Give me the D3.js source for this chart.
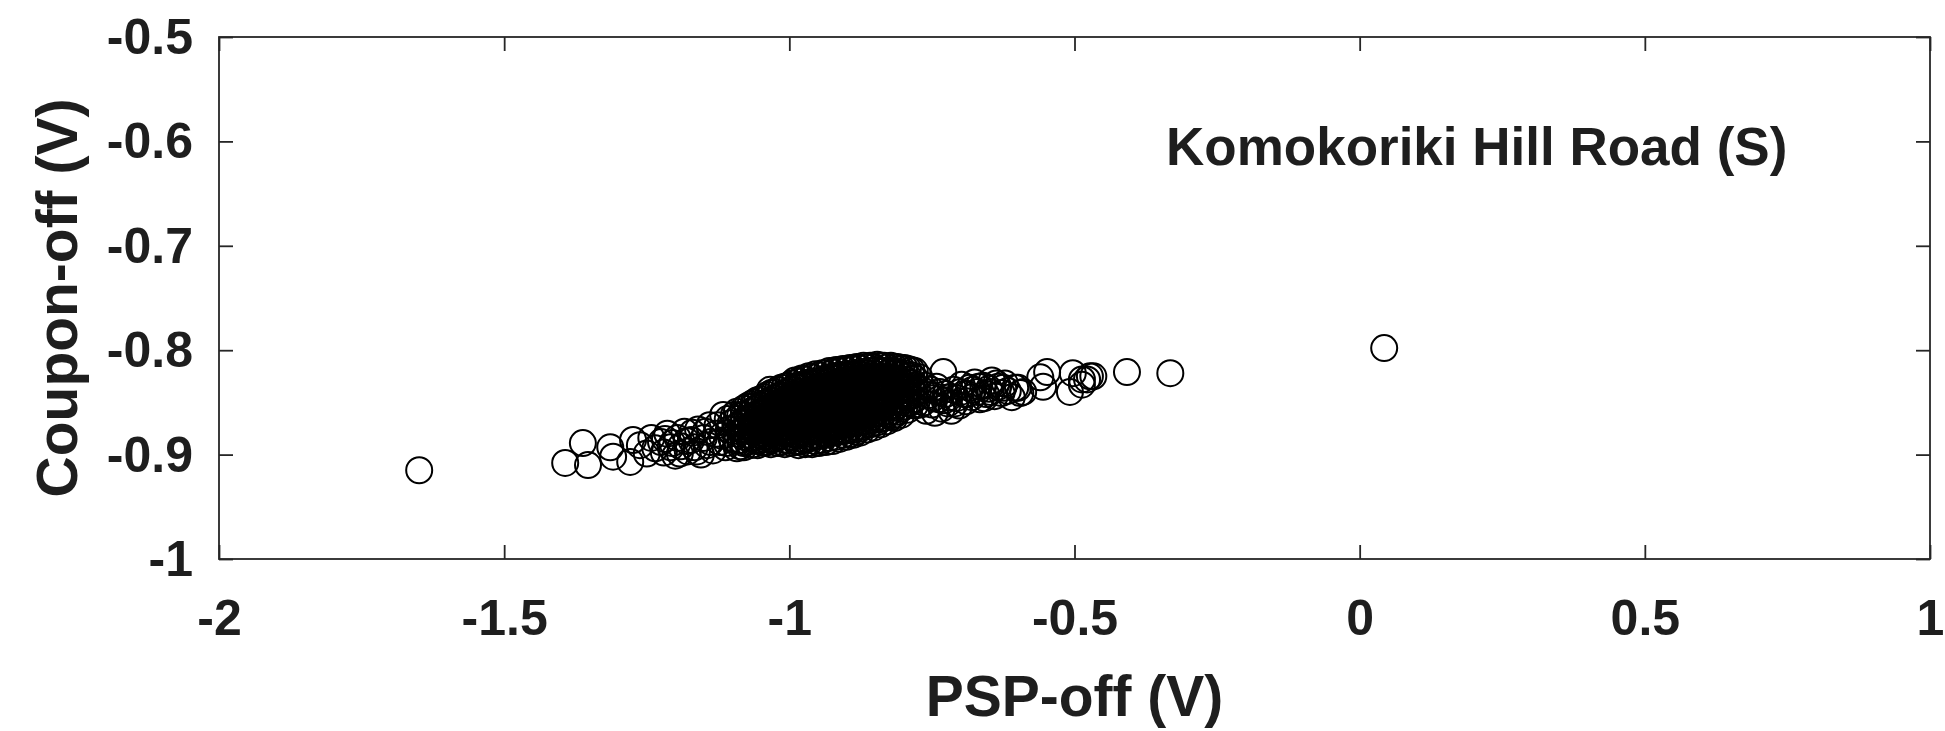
<!DOCTYPE html>
<html>
<head>
<meta charset="utf-8">
<script src="https://cdn.jsdelivr.net/npm/d3@7"></script>
<style>
  body { margin: 0; background: #fff; }
  svg text { font-family: "Liberation Sans", Arial, sans-serif; font-weight: bold; fill: #1e1e1e; }
</style>
</head>
<body>
<svg id="chart" width="1945" height="731"></svg>
<script>
// axis ticks
const xTicks = [-2, -1.5, -1, -0.5, 0, 0.5, 1];
const yTicks = [-1, -0.9, -0.8, -0.7, -0.6, -0.5];

// [PSP-off, Coupon-off] readings, volts
const outliers = [[-1.649, -0.915], [0.043, -0.798]];

const leftSparse = [
  [-1.393, -0.908], [-1.362, -0.889], [-1.353, -0.910], [-1.314, -0.893], [-1.309, -0.902],
  [-1.279, -0.907], [-1.274, -0.886], [-1.262, -0.891], [-1.250, -0.899], [-1.242, -0.884],
  [-1.235, -0.894], [-1.225, -0.888], [-1.220, -0.898], [-1.214, -0.880], [-1.208, -0.893],
  [-1.200, -0.901], [-1.196, -0.884], [-1.190, -0.892], [-1.184, -0.878], [-1.178, -0.897],
  [-1.172, -0.886], [-1.166, -0.893], [-1.160, -0.876], [-1.155, -0.900], [-1.150, -0.884],
  [-1.144, -0.891], [-1.140, -0.872], [-1.134, -0.896], [-1.128, -0.880], [-1.122, -0.888],
  [-1.116, -0.862], [-1.112, -0.893], [-1.108, -0.866], [-1.106, -0.876], [-1.101, -0.885],
  [-1.097, -0.862], [-1.064, -0.854], [-1.034, -0.838],
  [-1.218, -0.885], [-1.205, -0.889], [-1.192, -0.899], [-1.180, -0.887], [-1.170, -0.879],
  [-1.162, -0.897], [-1.147, -0.878], [-1.138, -0.888], [-1.126, -0.872], [-1.118, -0.882],
  [-1.110, -0.889], [-1.103, -0.870]
];

// dense body, one column of coupon readings per psp value
const coreColumns = [
  [-1.092, [-0.859, -0.866, -0.873, -0.880, -0.887, -0.894]],
  [-1.086, [-0.862, -0.870, -0.878, -0.886, -0.892]],
  [-1.080, [-0.856, -0.862, -0.869, -0.876, -0.883, -0.889, -0.893]],
  [-1.074, [-0.854, -0.866, -0.874, -0.881, -0.888]],
  [-1.068, [-0.852, -0.859, -0.865, -0.872, -0.878, -0.885, -0.891]],
  [-1.062, [-0.850, -0.857, -0.863, -0.870, -0.877, -0.884, -0.890]],
  [-1.056, [-0.848, -0.855, -0.861, -0.868, -0.874, -0.881, -0.887, -0.891]],
  [-1.050, [-0.847, -0.853, -0.860, -0.866, -0.873, -0.879, -0.886]],
  [-1.044, [-0.845, -0.851, -0.858, -0.864, -0.871, -0.877, -0.883, -0.889]],
  [-1.038, [-0.843, -0.850, -0.856, -0.863, -0.869, -0.876, -0.882, -0.888]],
  [-1.032, [-0.841, -0.848, -0.854, -0.861, -0.867, -0.874, -0.880, -0.886, -0.890]],
  [-1.026, [-0.840, -0.846, -0.853, -0.859, -0.866, -0.872, -0.879, -0.885]],
  [-1.020, [-0.838, -0.844, -0.851, -0.857, -0.864, -0.870, -0.877, -0.883, -0.889]],
  [-1.014, [-0.836, -0.843, -0.849, -0.856, -0.862, -0.869, -0.875, -0.882, -0.888]],
  [-1.008, [-0.835, -0.841, -0.848, -0.854, -0.861, -0.867, -0.874, -0.880, -0.886, -0.890]],
  [-1.002, [-0.834, -0.840, -0.847, -0.853, -0.860, -0.866, -0.873, -0.879, -0.886]],
  [-0.996, [-0.832, -0.838, -0.845, -0.851, -0.858, -0.864, -0.871, -0.877, -0.883, -0.889]],
  [-0.990, [-0.829, -0.835, -0.842, -0.848, -0.855, -0.861, -0.868, -0.874, -0.881, -0.887]],
  [-0.984, [-0.830, -0.836, -0.843, -0.849, -0.856, -0.862, -0.869, -0.875, -0.882, -0.888, -0.891]],
  [-0.978, [-0.827, -0.833, -0.840, -0.846, -0.853, -0.859, -0.866, -0.872, -0.879, -0.885]],
  [-0.972, [-0.828, -0.834, -0.841, -0.847, -0.854, -0.860, -0.867, -0.873, -0.880, -0.886, -0.890]],
  [-0.966, [-0.825, -0.831, -0.838, -0.844, -0.851, -0.857, -0.864, -0.870, -0.877, -0.883, -0.889]],
  [-0.960, [-0.826, -0.832, -0.839, -0.845, -0.852, -0.858, -0.865, -0.871, -0.878, -0.884, -0.890]],
  [-0.954, [-0.823, -0.830, -0.836, -0.843, -0.849, -0.856, -0.862, -0.869, -0.875, -0.882, -0.887]],
  [-0.948, [-0.824, -0.830, -0.837, -0.843, -0.850, -0.856, -0.863, -0.869, -0.876, -0.882, -0.889]],
  [-0.942, [-0.822, -0.828, -0.835, -0.841, -0.848, -0.854, -0.861, -0.867, -0.874, -0.880, -0.886]],
  [-0.936, [-0.822, -0.829, -0.835, -0.842, -0.848, -0.855, -0.861, -0.868, -0.874, -0.881, -0.888]],
  [-0.930, [-0.820, -0.826, -0.833, -0.839, -0.846, -0.852, -0.859, -0.865, -0.872, -0.878, -0.884]],
  [-0.924, [-0.821, -0.827, -0.834, -0.840, -0.847, -0.853, -0.860, -0.866, -0.873, -0.879, -0.887]],
  [-0.918, [-0.819, -0.825, -0.832, -0.838, -0.845, -0.851, -0.858, -0.864, -0.871, -0.877, -0.883]],
  [-0.912, [-0.820, -0.826, -0.833, -0.839, -0.846, -0.852, -0.859, -0.865, -0.872, -0.878, -0.885]],
  [-0.906, [-0.818, -0.824, -0.831, -0.837, -0.844, -0.850, -0.857, -0.863, -0.870, -0.876, -0.881]],
  [-0.900, [-0.819, -0.825, -0.832, -0.838, -0.845, -0.851, -0.858, -0.864, -0.871, -0.877, -0.883]],
  [-0.894, [-0.817, -0.823, -0.830, -0.836, -0.843, -0.849, -0.856, -0.862, -0.869, -0.875, -0.880]],
  [-0.888, [-0.818, -0.824, -0.831, -0.837, -0.844, -0.850, -0.857, -0.863, -0.870, -0.876, -0.881]],
  [-0.882, [-0.816, -0.822, -0.829, -0.835, -0.842, -0.848, -0.855, -0.861, -0.868, -0.874, -0.878]],
  [-0.876, [-0.817, -0.823, -0.830, -0.836, -0.843, -0.849, -0.856, -0.862, -0.869, -0.875, -0.879]],
  [-0.870, [-0.815, -0.821, -0.828, -0.834, -0.841, -0.847, -0.854, -0.860, -0.867, -0.873]],
  [-0.864, [-0.816, -0.822, -0.829, -0.835, -0.842, -0.848, -0.855, -0.861, -0.868, -0.876]],
  [-0.858, [-0.815, -0.820, -0.826, -0.833, -0.839, -0.846, -0.852, -0.859, -0.865, -0.871]],
  [-0.852, [-0.816, -0.822, -0.828, -0.835, -0.841, -0.848, -0.854, -0.861, -0.867, -0.874]],
  [-0.846, [-0.814, -0.819, -0.826, -0.832, -0.839, -0.845, -0.852, -0.858, -0.864, -0.869]],
  [-0.840, [-0.815, -0.821, -0.828, -0.834, -0.841, -0.847, -0.854, -0.860, -0.866, -0.871]],
  [-0.834, [-0.815, -0.820, -0.826, -0.833, -0.839, -0.846, -0.852, -0.859, -0.865]],
  [-0.828, [-0.816, -0.822, -0.829, -0.835, -0.842, -0.848, -0.855, -0.861, -0.868]],
  [-0.822, [-0.815, -0.820, -0.827, -0.833, -0.840, -0.846, -0.853, -0.859, -0.864]],
  [-0.816, [-0.816, -0.823, -0.829, -0.836, -0.842, -0.849, -0.855, -0.862, -0.865]],
  [-0.810, [-0.816, -0.821, -0.827, -0.834, -0.840, -0.847, -0.853, -0.859]],
  [-0.804, [-0.817, -0.824, -0.830, -0.837, -0.843, -0.850, -0.856, -0.862]],
  [-0.798, [-0.817, -0.822, -0.828, -0.835, -0.841, -0.848, -0.854]],
  [-0.792, [-0.818, -0.825, -0.831, -0.838, -0.844, -0.851, -0.857]],
  [-0.786, [-0.819, -0.824, -0.831, -0.837, -0.844, -0.850]],
  [-0.780, [-0.820, -0.827, -0.834, -0.841, -0.847, -0.853]]
];

const rightTail = [
  [-0.772, -0.826], [-0.768, -0.838], [-0.765, -0.850], [-0.760, -0.858], [-0.755, -0.843],
  [-0.750, -0.852], [-0.745, -0.860], [-0.742, -0.835], [-0.738, -0.847], [-0.733, -0.856],
  [-0.730, -0.821], [-0.726, -0.842], [-0.722, -0.851], [-0.716, -0.858], [-0.712, -0.838],
  [-0.707, -0.846], [-0.702, -0.853], [-0.698, -0.833], [-0.694, -0.842], [-0.690, -0.849],
  [-0.684, -0.836], [-0.680, -0.845], [-0.675, -0.831], [-0.671, -0.840], [-0.666, -0.847],
  [-0.660, -0.834], [-0.655, -0.842], [-0.650, -0.837], [-0.645, -0.829], [-0.640, -0.844],
  [-0.634, -0.835], [-0.628, -0.841], [-0.622, -0.832], [-0.617, -0.839], [-0.610, -0.845],
  [-0.604, -0.836], [-0.599, -0.836], [-0.595, -0.841], [-0.590, -0.840], [-0.560, -0.826],
  [-0.555, -0.835], [-0.548, -0.821], [-0.508, -0.840], [-0.503, -0.822], [-0.487, -0.833],
  [-0.487, -0.828], [-0.478, -0.828], [-0.473, -0.825], [-0.467, -0.825], [-0.408, -0.821],
  [-0.332, -0.822],
  [-0.775, -0.840], [-0.770, -0.852], [-0.762, -0.834], [-0.752, -0.838], [-0.748, -0.846],
  [-0.736, -0.840], [-0.728, -0.848], [-0.719, -0.845], [-0.710, -0.851], [-0.700, -0.840],
  [-0.688, -0.842], [-0.678, -0.838], [-0.668, -0.835], [-0.658, -0.846], [-0.647, -0.840],
  [-0.637, -0.832], [-0.625, -0.836]
];

const readings = outliers
  .concat(leftSparse)
  .concat(coreColumns.flatMap(([p, cs]) => cs.map(c => [p, c])))
  .concat(rightTail);

const svg = d3.select("#chart");
svg.append("rect").attr("width", 1945).attr("height", 731).attr("fill", "#fff");

const plotL = 219, plotR = 1930, plotT = 37, plotB = 559;

const x = d3.scaleLinear().domain([-2, 1]).range([plotL, plotR]);
const y = d3.scaleLinear().domain([-1, -0.5]).range([plotB, plotT]);

const fmt = d => String(d);

// points first, axes on top
svg.append("g")
  .selectAll("circle")
  .data(readings)
  .enter().append("circle")
  .attr("cx", d => x(d[0]))
  .attr("cy", d => y(d[1]))
  .attr("r", 13)
  .attr("fill", "none")
  .attr("stroke", "#000")
  .attr("stroke-width", 2);

const xb = svg.append("g")
  .attr("transform", "translate(0," + plotB + ")")
  .call(d3.axisBottom(x).tickValues(xTicks).tickFormat(fmt).tickSizeInner(-14).tickSizeOuter(0).tickPadding(40));
const xt = svg.append("g")
  .attr("transform", "translate(0," + plotT + ")")
  .call(d3.axisTop(x).tickValues(xTicks).tickFormat("").tickSizeInner(-14).tickSizeOuter(0));
const yl = svg.append("g")
  .attr("transform", "translate(" + plotL + ",0)")
  .call(d3.axisLeft(y).tickValues(yTicks).tickFormat(fmt).tickSizeInner(-14).tickSizeOuter(0).tickPadding(26));
const yr = svg.append("g")
  .attr("transform", "translate(" + plotR + ",0)")
  .call(d3.axisRight(y).tickValues(yTicks).tickFormat("").tickSizeInner(-14).tickSizeOuter(0));

[xb, xt, yl, yr].forEach(g => {
  g.select(".domain").remove();
  g.selectAll("line").attr("stroke", "#262626").attr("stroke-width", 1.8);
  g.selectAll("text").attr("font-size", 50).attr("fill", "#1e1e1e")
    .style("font-family", "'Liberation Sans', Arial, sans-serif").style("font-weight", "bold");
});
yl.selectAll("text").attr("dy", "0.33em");

svg.append("rect")
  .attr("x", plotL).attr("y", plotT)
  .attr("width", plotR - plotL).attr("height", plotB - plotT)
  .attr("fill", "none").attr("stroke", "#262626").attr("stroke-width", 1.8);

svg.append("text")
  .attr("x", (plotL + plotR) / 2).attr("y", 716)
  .attr("text-anchor", "middle").attr("font-size", 57)
  .text("PSP-off (V)");

svg.append("text")
  .attr("transform", "translate(77," + (plotT + plotB) / 2 + ") rotate(-90)")
  .attr("text-anchor", "middle").attr("font-size", 57)
  .text("Coupon-off (V)");

svg.append("text")
  .attr("x", 1166).attr("y", 165)
  .attr("font-size", 53)
  .text("Komokoriki Hill Road (S)");
</script>
</body>
</html>
